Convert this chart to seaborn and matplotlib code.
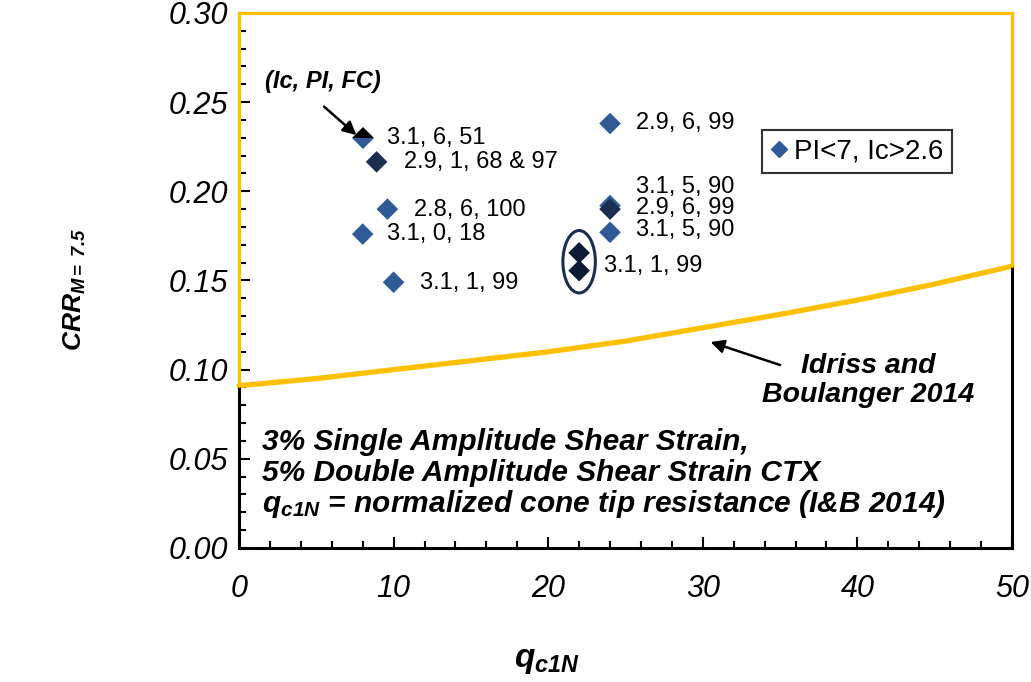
import numpy as np
import pandas as pd
import matplotlib
matplotlib.use("Agg")
import matplotlib.pyplot as plt
import seaborn as sns
from matplotlib.patches import Ellipse
from matplotlib.lines import Line2D
from matplotlib.ticker import MultipleLocator

# ---------------- data ----------------
q_blue = [8.0, 9.6, 10.0, 24.0, 24.0, 24.0]
crr_blue = [0.176, 0.190, 0.149, 0.238, 0.192, 0.177]
q_dark = [8.9, 24.0]
crr_dark = [0.2165, 0.190]
q_circled = [22.0, 22.0]
crr_circled = [0.1655, 0.1555]
q_split = [8.0]
crr_split = [0.230]

point_labels = ["3.1, 6, 51", "2.9, 1, 68 & 97", "2.8, 6, 100", "3.1, 0, 18",
                "3.1, 1, 99", "2.9, 6, 99", "3.1, 5, 90", "2.9, 6, 99",
                "3.1, 5, 90", "3.1, 1, 99"]
label_q = [9.6, 10.7, 11.3, 9.6, 11.7, 25.7, 25.7, 25.7, 25.7, 23.6]
label_crr = [0.230, 0.2165, 0.1895, 0.176, 0.1486, 0.2384, 0.2024, 0.1907, 0.1783, 0.1581]

curve_q = [0, 5, 10, 15, 20, 25, 30, 35, 40, 45, 50]
curve_crr = [0.091, 0.095, 0.100, 0.105, 0.110, 0.116, 0.1235, 0.131, 0.139, 0.148, 0.158]

x_ticks = [0, 10, 20, 30, 40, 50]
x_tick_labels = ["0", "10", "20", "30", "40", "50"]
y_ticks = [0.00, 0.05, 0.10, 0.15, 0.20, 0.25, 0.30]
y_tick_labels = ["0.00", "0.05", "0.10", "0.15", "0.20", "0.25", "0.30"]

legend_label = "PI<7, Ic>2.6"

# ---------------- style ----------------
sns.set_style("white")
plt.rcParams['font.family'] = ['Liberation Sans', 'DejaVu Sans']
plt.rcParams['text.color'] = 'black'
plt.rcParams['axes.labelcolor'] = 'black'
plt.rcParams['xtick.color'] = 'black'
plt.rcParams['ytick.color'] = 'black'
plt.rcParams['mathtext.fontset'] = 'custom'
plt.rcParams['mathtext.bf'] = 'Liberation Sans:bold:italic'
plt.rcParams['mathtext.it'] = 'Liberation Sans:italic'
plt.rcParams['mathtext.rm'] = 'Liberation Sans'
plt.rcParams['mathtext.sf'] = 'Liberation Sans:bold'

BLUE = '#305A96'
DARK = '#1B2D50'
DARKEST = '#0D1A33'
GOLD = '#FFC000'

fig = plt.figure(figsize=(10.31, 6.82), dpi=100)
ax = fig.add_axes([0.2318, 0.1965, 0.7498, 0.7845])

df = pd.DataFrame({
    'q': q_blue + q_dark + q_circled,
    'crr': crr_blue + crr_dark + crr_circled,
    'group': ['blue'] * len(q_blue) + ['dark'] * len(q_dark) + ['circled'] * len(q_circled),
})

# curve
sns.lineplot(x=curve_q, y=curve_crr, ax=ax, color=GOLD, lw=3.8, zorder=2, clip_on=False)

sns.scatterplot(data=df, x='q', y='crr', hue='group',
                palette={'blue': BLUE, 'dark': DARK, 'circled': DARKEST},
                marker='D', s=121, edgecolor='none', legend=False, ax=ax, zorder=4)

ax.plot(q_split, crr_split, ls='', marker='D', markersize=11, fillstyle='top',
        markerfacecolor='black', markerfacecoloralt=BLUE, markeredgewidth=0, zorder=5)

ax.add_patch(Ellipse((np.mean(q_circled), np.mean(crr_circled)), width=2.1, height=0.035,
                     fill=False, edgecolor=DARK, lw=2.2, zorder=5))

for t, xq, yc in zip(point_labels, label_q, label_crr):
    ax.text(xq, yc, t, fontsize=17, ha='left', va='center', color='black', zorder=6)

# annotations
ax.text(5.4, 0.2614, "(Ic, PI, FC)", fontsize=17, fontweight='bold', fontstyle='italic',
        ha='center', va='center')
ax.annotate("", xy=(7.6, 0.2315), xytext=(5.5, 0.2475),
            arrowprops=dict(arrowstyle='-|>', color='black', lw=1.8, mutation_scale=20,
                            shrinkA=0, shrinkB=0))
ax.annotate("", xy=(30.5, 0.1155), xytext=(35.0, 0.1026),
            arrowprops=dict(arrowstyle='-|>', color='black', lw=1.8, mutation_scale=20,
                            shrinkA=0, shrinkB=0))
ax.text(40.7, 0.0937, "Idriss and\nBoulanger 2014", fontsize=20.5, fontweight='bold',
        fontstyle='italic', ha='center', va='center', linespacing=1.15)

ax.text(1.5, 0.055, "3% Single Amplitude Shear Strain,", fontsize=21.5, fontweight='bold',
        fontstyle='italic', ha='left', va='baseline')
ax.text(1.5, 0.0375, "5% Double Amplitude Shear Strain CTX", fontsize=21.5, fontweight='bold',
        fontstyle='italic', ha='left', va='baseline')
ax.text(1.5, 0.0200, r"$\mathbf{q_{c1N}}$ = normalized cone tip resistance (I&B 2014)",
        fontsize=21.5, fontweight='bold', fontstyle='italic', ha='left', va='baseline')

# axes
ax.set_xlim(0, 50)
ax.set_ylim(0, 0.30)
ax.set_xticks(x_ticks)
ax.set_xticklabels(x_tick_labels, fontsize=22, fontstyle='italic')
ax.set_yticks(y_ticks)
ax.set_yticklabels(y_tick_labels, fontsize=22, fontstyle='italic')
ax.xaxis.set_minor_locator(MultipleLocator(2))
ax.yaxis.set_minor_locator(MultipleLocator(0.01))
ax.tick_params(axis='both', which='both', direction='in', top=False, right=False,
               left=True, bottom=True, color='black', labelcolor='black', width=1.5)
ax.tick_params(axis='both', which='major', length=8)
ax.tick_params(axis='both', which='minor', length=5)
ax.tick_params(axis='x', which='major', pad=19)
ax.tick_params(axis='y', which='major', pad=8)
ax.set_xlabel("")
ax.set_ylabel("")
for s in ax.spines.values():
    s.set_color('black')
    s.set_linewidth(2.2)
    s.set_visible(True)

# gold outline of the upper region
ax.plot([0, 0, 50, 50], [curve_crr[0], 0.30, 0.30, curve_crr[-1]], color=GOLD, lw=2.2,
        clip_on=False, zorder=3, solid_joinstyle='miter')

# legend
handle = Line2D([], [], ls='', marker='D', color=BLUE, markersize=8.5)
leg = ax.legend([handle], [legend_label], loc='upper left', bbox_to_anchor=(0.677, 0.781),
                borderaxespad=0, frameon=True, fancybox=False, fontsize=20,
                handlelength=0.6, handletextpad=0.25, borderpad=0.3)
leg.get_frame().set_edgecolor('black')
leg.get_frame().set_linewidth(1.5)

# axis titles
fig.text(0.073, 0.575, r"$\mathbf{CRR}_{\mathbf{M{=}\ 7.5}}$", rotation=90, fontsize=19,
         ha='center', va='center')
fig.text(0.531, 0.032, r"$\mathbf{q_{c1N}}$", fontsize=24, ha='center', va='center')

fig.savefig("out.png", dpi=100)
